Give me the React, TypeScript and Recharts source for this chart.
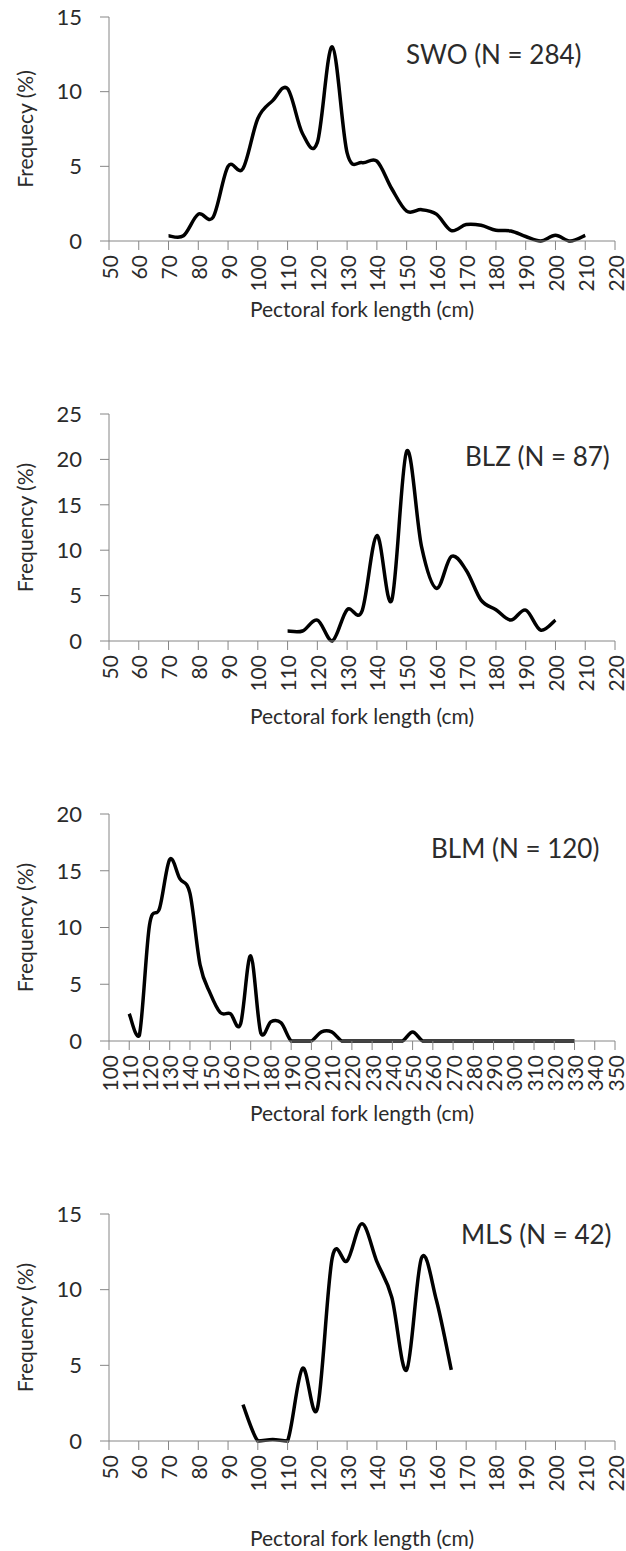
import { LineChart, Line, XAxis, YAxis, Label, Customized } from 'recharts';

const FONT = 'Lato, "Open Sans", sans-serif';
const AXIS = '#868686';
const INK = '#2b2b2b';

// swordfish
const swoLengths = [70, 75, 80, 85, 90, 95, 100, 105, 110, 115, 120, 125, 130, 135, 140, 145, 150, 155, 160, 165, 170, 175, 180, 185, 190, 195, 200, 205, 210];
const swoFreq = [0.35, 0.35, 1.8, 1.6, 5.0, 4.85, 8.2, 9.4, 10.2, 7.2, 6.6, 13.0, 5.9, 5.25, 5.35, 3.5, 2.0, 2.1, 1.8, 0.7, 1.1, 1.05, 0.72, 0.67, 0.3, 0, 0.38, 0, 0.38];

// blue marlin (BLZ)
const blzLengths = [110, 115, 120, 125, 130, 135, 140, 145, 150, 155, 160, 165, 170, 175, 180, 185, 190, 195, 200];
const blzFreq = [1.1, 1.1, 2.3, 0, 3.45, 3.3, 11.6, 4.5, 20.9, 10.4, 5.8, 9.3, 7.8, 4.5, 3.45, 2.3, 3.4, 1.2, 2.3];

// black marlin
const blmLengths = [110, 115, 120, 125, 130, 135, 140, 145, 150, 155, 160, 165, 170, 175, 180, 185, 190, 195, 200, 205, 210, 215, 220, 225, 230, 235, 240, 245, 250, 255, 260, 265, 270, 275, 280, 285, 290, 295, 300, 305, 310, 315, 320, 325, 330];
const blmFreq = [2.4, 0.5, 10.2, 11.7, 16.0, 14.3, 13.0, 6.7, 4.2, 2.5, 2.4, 1.5, 7.5, 0.7, 1.7, 1.6, 0, 0, 0, 0.8, 0.8, 0, 0, 0, 0, 0, 0, 0, 0.8, 0, 0, 0, 0, 0, 0, 0, 0, 0, 0, 0, 0, 0, 0, 0, 0];

// striped marlin
const mlsLengths = [95, 100, 105, 110, 115, 120, 125, 130, 135, 140, 145, 150, 155, 160, 165];
const mlsFreq = [2.4, 0, 0.1, 0, 4.8, 2.15, 12.1, 11.9, 14.35, 11.85, 9.5, 4.7, 12.1, 9.3, 4.7];

const ticks50to220 = [50, 60, 70, 80, 90, 100, 110, 120, 130, 140, 150, 160, 170, 180, 190, 200, 210, 220];
const ticks100to350 = [100, 110, 120, 130, 140, 150, 160, 170, 180, 190, 200, 210, 220, 230, 240, 250, 260, 270, 280, 290, 300, 310, 320, 330, 340, 350];
const yTicks15 = [0, 5, 10, 15];
const yTicks20 = [0, 5, 10, 15, 20];
const yTicks25 = [0, 5, 10, 15, 20, 25];

const xTitle = 'Pectoral fork length (cm)';

// Excel-like smoothed line (Catmull-Rom through every point).
// Control points are kept above the plot floor, like Excel clipping at 0.
const excelSmooth = (floorY: number) => (context: any) => {
  let pts: number[][] = [];
  const c = (v: number) => Math.min(v, floorY);
  return {
    areaStart() {},
    areaEnd() {},
    lineStart() {
      pts = [];
    },
    point(x: number, y: number) {
      pts.push([+x, +y]);
    },
    lineEnd() {
      const n = pts.length;
      if (!n) return;
      context.moveTo(pts[0][0], pts[0][1]);
      for (let i = 0; i < n - 1; i++) {
        const p0 = pts[i - 1] || pts[i];
        const p1 = pts[i];
        const p2 = pts[i + 1];
        const p3 = pts[i + 2] || p2;
        context.bezierCurveTo(
          p1[0] + (p2[0] - p0[0]) / 6, c(p1[1] + (p2[1] - p0[1]) / 6),
          p2[0] - (p3[0] - p1[0]) / 6, c(p2[1] - (p3[1] - p1[1]) / 6),
          p2[0], p2[1]
        );
      }
    },
  };
};

const XTick = (props: any) => {
  const { x, y, payload } = props;
  return (
    <text x={x} y={y} transform={`rotate(-90, ${x}, ${y})`} textAnchor="end" dominantBaseline="central"
      fill={INK} fontSize={21} fontFamily={FONT}>
      {payload.value}
    </text>
  );
};

function Panel({ lengths, freq, xDomain, xTicks, yTicks, yTitle, note, noteX, noteY, top, plotH, axisH, titleOff }: any) {
  const data = lengths.map((l: number, i: number) => ({ len: l, freq: freq[i] }));
  const mt = 20;
  return (
    <div style={{ position: 'absolute', left: 0, top: top - mt }}>
      <LineChart width={626} height={mt + plotH + axisH} data={data} margin={{ top: mt, right: 11, bottom: 0, left: 0 }}>
        <XAxis type="number" dataKey="len" domain={xDomain} ticks={xTicks} interval={0} height={axisH}
          stroke={AXIS} tickLine={{ stroke: AXIS }} tickSize={9} tickMargin={5} tick={<XTick />}>
          <Label content={(p: any) => (
            <text x={p.viewBox.x + p.viewBox.width / 2} y={p.viewBox.y + titleOff} textAnchor="middle"
              dominantBaseline="central" fill={INK} fontSize={21} fontFamily={FONT}>{xTitle}</text>
          )} />
        </XAxis>
        <YAxis type="number" domain={[yTicks[0], yTicks[yTicks.length - 1]]} ticks={yTicks} interval={0} width={109}
          stroke={AXIS} tickLine={{ stroke: AXIS }} tickSize={9} tickMargin={18}
          tick={{ fill: INK, fontSize: 22, fontFamily: FONT }}>
          <Label content={(p: any) => (
            <text x={24} y={p.viewBox.y + p.viewBox.height / 2} transform={`rotate(-90, 24, ${p.viewBox.y + p.viewBox.height / 2})`}
              textAnchor="middle" dominantBaseline="central" fill={INK} fontSize={21} fontFamily={FONT}>{yTitle}</text>
          )} />
        </YAxis>
        <Line type={excelSmooth(mt + plotH) as any} dataKey="freq" stroke="#000" strokeWidth={3.5} dot={false} activeDot={false}
          isAnimationActive={false} />
        <Customized component={() => (
          <text x={noteX} y={noteY - (top - mt)} fill={INK} fontSize={26} fontFamily={FONT}>{note}</text>
        )} />
      </LineChart>
    </div>
  );
}

export default function App() {
  return (
    <div style={{ position: 'absolute', left: 0, top: 0, width: 626, height: 1551, background: '#fff' }}>
      <Panel lengths={swoLengths} freq={swoFreq} xDomain={[50, 220]} xTicks={ticks50to220} yTicks={yTicks15}
        yTitle="Frequecy (%)" note="SWO (N = 284)" noteX={406} noteY={64} top={17} plotH={224} axisH={90} titleOff={67} />
      <Panel lengths={blzLengths} freq={blzFreq} xDomain={[50, 220]} xTicks={ticks50to220} yTicks={yTicks25}
        yTitle="Frequency (%)" note="BLZ (N = 87)" noteX={465} noteY={466} top={414} plotH={227} axisH={95} titleOff={74} />
      <Panel lengths={blmLengths} freq={blmFreq} xDomain={[100, 350]} xTicks={ticks100to350} yTicks={yTicks20}
        yTitle="Frequency (%)" note="BLM (N = 120)" noteX={431} noteY={858} top={814} plotH={227} axisH={95} titleOff={71} />
      <Panel lengths={mlsLengths} freq={mlsFreq} xDomain={[50, 220]} xTicks={ticks50to220} yTicks={yTicks15}
        yTitle="Frequency (%)" note="MLS (N = 42)" noteX={461} noteY={1244} top={1214} plotH={227} axisH={110} titleOff={96} />
    </div>
  );
}
